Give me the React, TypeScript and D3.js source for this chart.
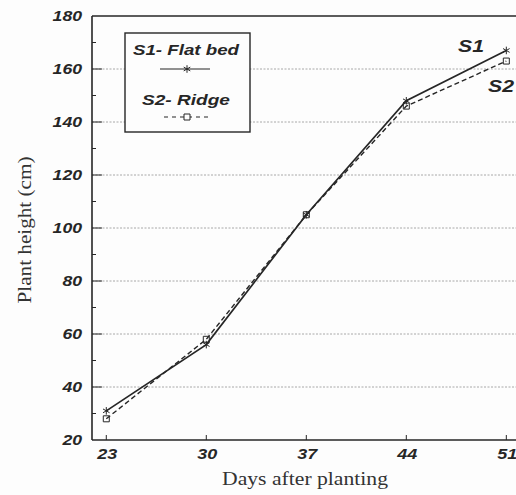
import { useEffect, useRef } from 'react'
import * as d3 from 'd3'

const days = [23, 30, 37, 44, 51]
const flatBed = [31, 56, 105, 148, 167]
const ridge = [28, 58, 105, 146, 163]
const yTicks = [20, 40, 60, 80, 100, 120, 140, 160, 180]
const gridTicks = [40, 60, 80, 100, 120, 140, 160]
const minorTicks = [30, 50, 70, 90, 110, 130, 150, 170]

const W = 516
const H = 495

export default function App() {
  const svgRef = useRef<SVGSVGElement>(null)

  useEffect(() => {
    if (!svgRef.current) return
    const svg = d3.select(svgRef.current)
    svg.selectAll('*').remove()

    const x = d3.scaleLinear().domain([22, 52]).range([92, 520.6])
    const y = d3.scaleLinear().domain([20, 180]).range([440, 16])
    const ink = '#262626'
    const sans = 'Liberation Sans, Arial, sans-serif'
    const serif = 'Liberation Serif, Times New Roman, serif'

    svg.append('rect').attr('width', W).attr('height', H).attr('fill', '#fdfdfd')

    // dotted grid
    svg.append('g')
      .selectAll('line')
      .data(gridTicks)
      .join('line')
      .attr('x1', x(22)).attr('x2', W)
      .attr('y1', d => y(d)).attr('y2', d => y(d))
      .attr('stroke', '#a8a8a8')
      .attr('stroke-width', 1)
      .attr('stroke-dasharray', '2,1.5')

    // frame: left axis, bottom axis, top border
    svg.append('line').attr('x1', x(22)).attr('x2', x(22)).attr('y1', y(180)).attr('y2', y(20))
      .attr('stroke', ink).attr('stroke-width', 1.6)
    svg.append('line').attr('x1', x(22)).attr('x2', W).attr('y1', y(20)).attr('y2', y(20))
      .attr('stroke', ink).attr('stroke-width', 1.6)
    svg.append('line').attr('x1', x(22)).attr('x2', W).attr('y1', y(180)).attr('y2', y(180))
      .attr('stroke', ink).attr('stroke-width', 1.6)

    // y ticks
    svg.append('g').selectAll('line').data(yTicks.slice(1, -1)).join('line')
      .attr('x1', x(22)).attr('x2', x(22) + 10)
      .attr('y1', d => y(d)).attr('y2', d => y(d))
      .attr('stroke', ink).attr('stroke-width', 1)
    svg.append('g').selectAll('line').data(minorTicks).join('line')
      .attr('x1', x(22)).attr('x2', x(22) + 4)
      .attr('y1', d => y(d)).attr('y2', d => y(d))
      .attr('stroke', ink).attr('stroke-width', 1)
    svg.append('g').selectAll('text').data(yTicks).join('text')
      .attr('x', 82).attr('y', d => y(d) + 5)
      .attr('text-anchor', 'end')
      .attr('font-family', sans).attr('font-size', 14)
      .attr('font-weight', 'bold').attr('font-style', 'italic')
      .attr('textLength', d => String(d).length * 9.8)
      .attr('lengthAdjust', 'spacingAndGlyphs')
      .attr('fill', ink)
      .text(d => d)

    // x ticks
    svg.append('g').selectAll('line').data(days).join('line')
      .attr('x1', d => x(d)).attr('x2', d => x(d))
      .attr('y1', y(20)).attr('y2', y(20) - 5)
      .attr('stroke', ink).attr('stroke-width', 1)
    svg.append('g').selectAll('text').data(days).join('text')
      .attr('x', d => x(d) + 1).attr('y', 459)
      .attr('text-anchor', 'middle')
      .attr('font-family', sans).attr('font-size', 14)
      .attr('font-weight', 'bold').attr('font-style', 'italic')
      .attr('textLength', 20)
      .attr('lengthAdjust', 'spacingAndGlyphs')
      .attr('fill', ink)
      .text(d => d)

    // axis titles
    svg.append('text')
      .attr('x', 305).attr('y', 485)
      .attr('text-anchor', 'middle')
      .attr('font-family', serif)
      .attr('font-size', 19).attr('fill', '#333')
      .attr('textLength', 166)
      .attr('lengthAdjust', 'spacingAndGlyphs')
      .text('Days after planting')
    svg.append('text')
      .attr('transform', 'translate(31,230) rotate(-90)')
      .attr('text-anchor', 'middle')
      .attr('font-family', serif)
      .attr('font-size', 19).attr('fill', '#333')
      .attr('textLength', 147)
      .attr('lengthAdjust', 'spacingAndGlyphs')
      .text('Plant height (cm)')

    const line = d3.line<number>()
      .x((_, i) => x(days[i]))
      .y(d => y(d))

    const star = d3.symbol().type(d3.symbolAsterisk).size(40)
    const square = d3.symbol().type(d3.symbolSquare).size(36)

    // S2 ridge (dashed, squares)
    svg.append('path').datum(ridge)
      .attr('d', line).attr('fill', 'none')
      .attr('stroke', ink).attr('stroke-width', 1.4)
      .attr('stroke-dasharray', '5,3')
    svg.append('g').selectAll('path').data(ridge).join('path')
      .attr('transform', (d, i) => `translate(${x(days[i])},${y(d)})`)
      .attr('d', square())
      .attr('fill', 'none').attr('stroke', ink).attr('stroke-width', 1)

    // S1 flat bed (solid, asterisks)
    svg.append('path').datum(flatBed)
      .attr('d', line).attr('fill', 'none')
      .attr('stroke', ink).attr('stroke-width', 1.7)
    svg.append('g').selectAll('path').data(flatBed).join('path')
      .attr('transform', (d, i) => `translate(${x(days[i])},${y(d)})`)
      .attr('d', star())
      .attr('fill', 'none').attr('stroke', ink).attr('stroke-width', 1)

    // series labels
    const lab = (t: string, lx: number, ly: number) =>
      svg.append('text').attr('x', lx).attr('y', ly)
        .attr('font-family', sans).attr('font-size', 16)
        .attr('font-weight', 'bold').attr('font-style', 'italic')
        .attr('textLength', 26).attr('lengthAdjust', 'spacingAndGlyphs')
        .attr('fill', ink).text(t)
    lab('S1', 458, 52)
    lab('S2', 488, 92)

    // legend
    const lg = svg.append('g')
    lg.append('rect')
      .attr('x', 125).attr('y', 33).attr('width', 125).attr('height', 99)
      .attr('fill', '#fdfdfd').attr('stroke', ink).attr('stroke-width', 1.4)
    lg.append('text').attr('x', 186).attr('y', 55).attr('text-anchor', 'middle')
      .attr('font-family', sans).attr('font-size', 14)
      .attr('font-weight', 'bold').attr('font-style', 'italic')
      .attr('textLength', 106).attr('lengthAdjust', 'spacingAndGlyphs')
      .attr('fill', ink).text('S1- Flat bed')
    lg.append('line').attr('x1', 160).attr('x2', 210).attr('y1', 69).attr('y2', 69)
      .attr('stroke', ink).attr('stroke-width', 1.2)
    lg.append('path').attr('transform', 'translate(187,69)').attr('d', star())
      .attr('fill', 'none').attr('stroke', ink).attr('stroke-width', 1)
    lg.append('text').attr('x', 186).attr('y', 105).attr('text-anchor', 'middle')
      .attr('font-family', sans).attr('font-size', 14)
      .attr('font-weight', 'bold').attr('font-style', 'italic')
      .attr('textLength', 88).attr('lengthAdjust', 'spacingAndGlyphs')
      .attr('fill', ink).text('S2- Ridge')
    lg.append('line').attr('x1', 164).attr('x2', 210).attr('y1', 117).attr('y2', 117)
      .attr('stroke', ink).attr('stroke-width', 1.2).attr('stroke-dasharray', '4,4')
    lg.append('path').attr('transform', 'translate(187,117)').attr('d', square())
      .attr('fill', '#fdfdfd').attr('stroke', ink).attr('stroke-width', 1)
  }, [])

  return (
    <svg
      ref={svgRef}
      width={W}
      height={H}
      style={{ position: 'absolute', left: 0, top: 0 }}
    />
  )
}
